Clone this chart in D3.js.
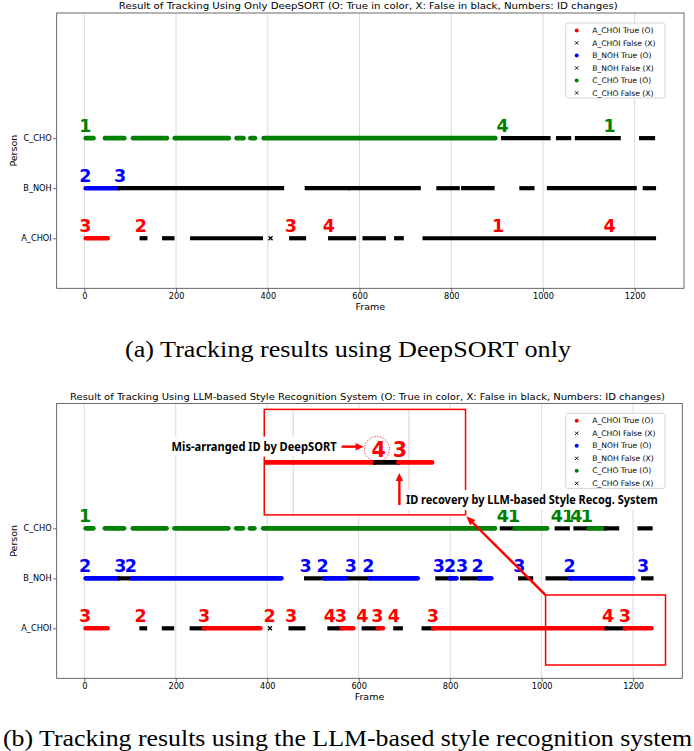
<!DOCTYPE html>
<html><head><meta charset="utf-8">
<script src="https://cdn.jsdelivr.net/npm/d3@7/dist/d3.min.js"></script>
<style>body{margin:0;background:#fff}</style>
</head><body>
<svg id="c" width="694" height="751" xmlns="http://www.w3.org/2000/svg"></svg>
<script>
// ---------------- DATA ----------------
const persons = ["A_CHOI", "B_NOH", "C_CHO"];
const frameTicks = [0, 200, 400, 600, 800, 1000, 1200];
const legendEntries = ["A_CHOI True (O)", "A_CHOI False (X)", "B_NOH True (O)", "B_NOH False (X)", "C_CHO True (O)", "C_CHO False (X)"];

// runs: [startFrame, endFrame, correct(1)/wrong(0)]
// (a) DeepSORT only
const dsRunsA = [[3,51,1],[125,133,0],[174,192,0],[235,385,0],[406,406,0],[451,479,0],[536,588,0],[611,653,0],[680,692,0],[742,1242,0]];
const dsRunsB = [[3,76,1],[77,431,0],[485,575,0],[580,729,0],[772,814,0],[826,890,0],[953,977,0],[1013,1200,0],[1222,1242,0]];
const dsRunsC = [[3,20,1],[45,87,1],[106,180,1],[197,315,1],[332,347,1],[362,372,1],[391,896,1],[913,1012,0],[1033,1057,0],[1074,1165,0],[1214,1240,0]];
// (b) LLM-based style recognition
const llmRunsA = [[3,51,1],[125,133,0],[174,192,0],[235,261,0],[262,385,1],[406,406,0],[451,479,0],[536,562,0],[563,588,1],[611,641,0],[642,653,1],[680,692,0],[742,762,0],[763,1141,1],[1142,1181,0],[1182,1240,1]];
const llmRunsB = [[3,76,1],[77,103,0],[104,431,1],[485,524,0],[525,575,1],[580,623,0],[624,729,1],[772,799,0],[800,814,1],[826,862,0],[863,890,1],[953,977,0],[1013,1061,0],[1062,1200,1],[1222,1240,0]];
const llmRunsC = [[3,20,1],[45,87,1],[106,180,1],[197,315,1],[332,347,1],[362,372,1],[391,898,1],[913,940,0],[941,1012,1],[1033,1057,0],[1074,1102,0],[1103,1140,1],[1141,1165,0],[1214,1238,0]];

// ID change labels: [frame, id]
const dsLabelsA = [[2,"3"],[123,"2"],[450,"3"],[533,"4"],[902,"1"],[1145,"4"]];
const dsLabelsB = [[2,"2"],[78,"3"]];
const dsLabelsC = [[2,"1"],[912,"4"],[1145,"1"]];
const llmLabelsA = [[2,"3"],[123,"2"],[262,"3"],[405,"2"],[452,"3"],[537,"4"],[561,"3"],[608,"4"],[641,"3"],[677,"4"],[762,"3"],[1145,"4"],[1182,"3"]];
const llmLabelsB = [[2,"2"],[79,"3"],[102,"2"],[484,"3"],[521,"2"],[583,"3"],[621,"2"],[775,"3"],[800,"2"],[826,"3"],[860,"2"],[951,"3"],[1061,"2"],[1222,"3"]];
const llmLabelsC = [[2,"1"],[915,"4"],[940,"1"],[1033,"4"],[1058,"1"],[1076,"4"],[1099,"1"]];

const titleA = "Result of Tracking Using Only DeepSORT (O: True in color, X: False in black, Numbers: ID changes)";
const titleB = "Result of Tracking Using LLM-based Style Recognition System (O: True in color, X: False in black, Numbers: ID changes)";
const captionA = "(a) Tracking results using DeepSORT only";
const captionB = "(b) Tracking results using the LLM-based style recognition system";
const noteMis = "Mis-arranged ID by DeepSORT";
const noteRec = "ID recovery by LLM-based Style Recog. System";

// ---------------- DRAW ----------------
const colors = ["#ff0000", "#0000ff", "#008000"];
const svg = d3.select("#c");
const FONT = "DejaVu Sans, sans-serif";

function arrow(g, x1, y1, x2, y2, color, w, hl, hw) {
  const dx = x2 - x1, dy = y2 - y1, L = Math.hypot(dx, dy);
  const ux = dx / L, uy = dy / L;
  const bx = x2 - ux * hl, by = y2 - uy * hl;
  g.append("line").attr("x1", x1).attr("y1", y1).attr("x2", bx + ux).attr("y2", by + uy)
    .attr("stroke", color).attr("stroke-width", w);
  g.append("path").attr("d", `M${x2},${y2}L${bx - uy * hw / 2},${by + ux * hw / 2}L${bx + uy * hw / 2},${by - ux * hw / 2}Z`)
    .attr("fill", color);
}

function drawRuns(g, runs, x, yv, color, cw, fw) {
  runs.forEach(r => {
    if (r[0] === r[1] && !r[2]) {
      const cx = x(r[0]), s = 2;
      g.append("path").attr("d", `M${cx - s},${yv - s}L${cx + s},${yv + s}M${cx - s},${yv + s}L${cx + s},${yv - s}`)
        .attr("stroke", "#000").attr("stroke-width", 1.3);
      return;
    }
    g.append("line").attr("x1", x(r[0])).attr("x2", x(r[1])).attr("y1", yv).attr("y2", yv)
      .attr("stroke", r[2] ? color : "#000").attr("stroke-width", r[2] ? cw : fw)
      .attr("stroke-linecap", r[2] ? "round" : "square");
  });
}

function panel(o) {
  const g = svg.append("g");
  const x = d3.scaleLinear().domain([-60.3, 1307.5]).range([56.7, o.right]);
  const y = d3.scaleLinear().domain([-1, 4.5]).range([o.bottom, o.top]);
  // grid
  g.append("g").selectAll("line").data(frameTicks).join("line")
    .attr("x1", d => x(d)).attr("x2", d => x(d)).attr("y1", o.top).attr("y2", o.bottom)
    .attr("stroke", "#dadada").attr("stroke-width", 1);
  // axes
  const xa = g.append("g").attr("transform", `translate(0,${o.bottom})`)
    .call(d3.axisBottom(x).tickValues(frameTicks).tickSize(3.5).tickSizeOuter(0).tickPadding(1.2).tickFormat(d3.format("d")));
  const ya = g.append("g").attr("transform", `translate(56.7,0)`)
    .call(d3.axisLeft(y).tickValues([0, 1, 2]).tickSize(3.5).tickSizeOuter(0).tickPadding(1.5).tickFormat(i => persons[i]));
  [xa, ya].forEach(a => {
    a.select(".domain").remove();
    a.selectAll("line").attr("stroke", "#444").attr("stroke-width", 0.8);
    a.selectAll("text").attr("font-family", FONT).attr("font-size", 8.2).attr("fill", "#000");
  });
  g.append("text").attr("x", (56.7 + o.right) / 2).attr("y", o.bottom + 22).attr("text-anchor", "middle")
    .attr("font-family", FONT).attr("font-size", 9.5).text("Frame");
  g.append("text").attr("transform", `translate(16.5,${(o.top + o.bottom) / 2}) rotate(-90)`).attr("text-anchor", "middle")
    .attr("font-family", FONT).attr("font-size", 9.5).text("Person");
  // data
  const dg = g.append("g");
  o.runs.forEach((runs, i) => drawRuns(dg, runs, x, y(i), colors[i], 4.6, 4.2));
  // id labels
  o.labels.forEach((labs, i) => {
    dg.selectAll(null).data(labs).join("text")
      .attr("x", d => x(d[0])).attr("y", y(i) - 6).attr("text-anchor", "middle")
      .attr("font-family", FONT).attr("font-weight", "bold").attr("font-size", 17.5)
      .attr("fill", colors[i]).text(d => d[1]);
  });
  // title
  g.append("text").attr("x", (56.7 + o.right) / 2 - 2).attr("y", o.top - 3.6).attr("text-anchor", "middle")
    .attr("font-family", FONT).attr("font-size", 9).attr("textLength", o.titleLen).attr("lengthAdjust", "spacingAndGlyphs")
    .text(o.title);
  // legend
  const lg = g.append("g");
  const lt = o.top + 10;
  lg.append("rect").attr("x", 565.7).attr("y", lt).attr("width", 99.3).attr("height", 75).attr("rx", 2)
    .attr("fill", "#fff").attr("fill-opacity", 0.85).attr("stroke", "#cccccc").attr("stroke-width", 0.8);
  legendEntries.forEach((t, k) => {
    const yy = lt + 7.4 + k * 12.5;
    const pi = Math.floor(k / 2);
    if (k % 2 === 0) {
      lg.append("circle").attr("cx", 576.7).attr("cy", yy).attr("r", 2).attr("fill", colors[pi]);
    } else {
      const s = 1.7;
      lg.append("path").attr("d", `M${576.7 - s},${yy - s}L${576.7 + s},${yy + s}M${576.7 - s},${yy + s}L${576.7 + s},${yy - s}`)
        .attr("stroke", "#000").attr("stroke-width", 0.9);
    }
    lg.append("text").attr("x", 592.3).attr("y", yy).attr("dy", "0.35em").attr("font-family", FONT)
      .attr("font-size", 7.6).text(t);
  });
  // spines
  g.append("rect").attr("x", 56.7).attr("y", o.top).attr("width", o.right - 56.7).attr("height", o.bottom - o.top)
    .attr("fill", "none").attr("stroke", "#444").attr("stroke-width", 0.8);
  // caption
  svg.append("text").attr("x", o.capX).attr("y", o.capY).attr("text-anchor", "middle")
    .attr("font-family", "Liberation Serif, Times New Roman, serif").attr("font-size", 23)
    .attr("textLength", o.capLen).attr("lengthAdjust", "spacingAndGlyphs").text(o.caption);
  return { g, x, y };
}

panel({ top: 13, bottom: 288.3, right: 684, runs: [dsRunsA, dsRunsB, dsRunsC], labels: [dsLabelsA, dsLabelsB, dsLabelsC],
  title: titleA, titleLen: 499, caption: captionA, capX: 348, capY: 356.5, capLen: 446 });
const pb = panel({ top: 403.4, bottom: 678.3, right: 682.3, runs: [llmRunsA, llmRunsB, llmRunsC], labels: [llmLabelsA, llmLabelsB, llmLabelsC],
  title: titleB, titleLen: 595, caption: captionB, capX: 347.5, capY: 745.5, capLen: 689 });

// ---------------- ANNOTATIONS (b) ----------------
const { g: gb, x: xb, y: yb } = pb;
const ag = gb.append("g");
const RED = "#ff0000";
// bottom-right highlight box (data coords)
const bx0 = xb(1008.6), bx1 = xb(1270.8), by0 = yb(0.666), by1 = yb(-0.734);
ag.append("rect").attr("x", bx0).attr("y", by0).attr("width", bx1 - bx0).attr("height", by1 - by0)
  .attr("fill", "none").attr("stroke", RED).attr("stroke-width", 1.5);
// inset (magnified view)
const ix0 = xb(393.5), ix1 = xb(833.6), iy0 = yb(4.38), iy1 = yb(2.27);
const xi = d3.scaleLinear().domain([1000, 1200]).range([xb(456.8), xb(709.7)]);
const iyRow = yb(3.32);
ag.append("rect").attr("x", ix0).attr("y", iy0).attr("width", ix1 - ix0).attr("height", iy1 - iy0).attr("fill", "#fff");
ag.append("clipPath").attr("id", "insetClip").append("rect")
  .attr("x", ix0).attr("y", iy0).attr("width", ix1 - ix0).attr("height", iy1 - iy0);
const ig = ag.append("g").attr("clip-path", "url(#insetClip)");
ig.selectAll("line.ig").data(frameTicks).join("line").attr("class", "ig")
  .attr("x1", d => xi(d)).attr("x2", d => xi(d)).attr("y1", iy0).attr("y2", iy1)
  .attr("stroke", "#dadada").attr("stroke-width", 1.2);
drawRuns(ig, llmRunsA, xi, iyRow, RED, 4.8, 4.8);
ig.selectAll("text.il").data(llmLabelsA.filter(d => d[0] > 1100)).join("text").attr("class", "il")
  .attr("x", d => xi(d[0]) + 1.5).attr("y", iyRow - 5.6).attr("text-anchor", "middle")
  .attr("font-family", FONT).attr("font-weight", "bold").attr("font-size", 20.5).attr("fill", RED).text(d => d[1]);
ag.append("circle").attr("cx", xb(639.8)).attr("cy", yb(3.587)).attr("r", 12.5)
  .attr("fill", "none").attr("stroke", RED).attr("stroke-width", 0.9).attr("stroke-dasharray", "1.2,1.6");
ag.append("rect").attr("x", ix0).attr("y", iy0).attr("width", ix1 - ix0).attr("height", iy1 - iy0)
  .attr("fill", "none").attr("stroke", RED).attr("stroke-width", 1.5);

function note(txt, xAnchor, anchor, yc, len) {
  const t = ag.append("text").attr("x", xAnchor).attr("y", yc).attr("dy", "0.36em").attr("text-anchor", anchor)
    .attr("font-family", "Noto Sans, DejaVu Sans, sans-serif").attr("font-weight", "bold").attr("font-size", 12.4)
    .attr("textLength", len).attr("lengthAdjust", "spacingAndGlyphs").text(txt);
  const bb = t.node().getBBox();
  ag.insert("rect", () => t.node()).attr("x", bb.x - 3).attr("y", bb.y - 1.5).attr("width", bb.width + 6).attr("height", bb.height + 3)
    .attr("fill", "#fff");
}
note(noteMis, xb(551.7), "end", yb(3.633), 165);
note(noteRec, xb(703.2), "start", yb(2.567), 251.7);
arrow(ag, xb(562.6), yb(3.635), xb(610.8), yb(3.635), RED, 2.4, 8, 7.5);
arrow(ag, xb(688.9), yb(2.467), xb(688.9), yb(3.107), RED, 2.4, 8, 7.5);
arrow(ag, bx0, by0, ix1 + 0.8, iy1 + 1.5, RED, 2.4, 9, 7.5);
</script>
</body></html>
